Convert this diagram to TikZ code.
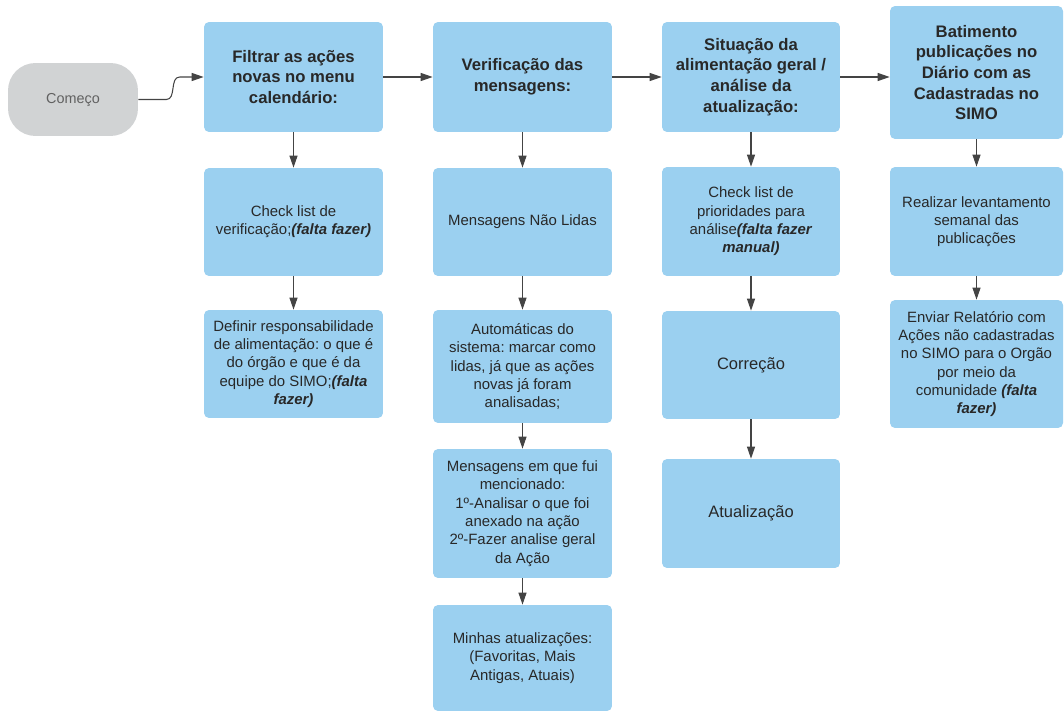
\documentclass[tikz,border=0pt]{standalone}
\usepackage{fontspec}
\setmainfont{Liberation Sans}
\usetikzlibrary{arrows.meta, calc}
\definecolor{boxblue}{RGB}{155, 208, 240}
\definecolor{termgray}{RGB}{209, 211, 212}
\definecolor{ink}{RGB}{40, 40, 40}
\definecolor{wire}{RGB}{68, 68, 68}
\newcommand{\falta}[1]{\textbf{\textit{#1}}}
\frenchspacing

\begin{document}
\begin{tikzpicture}[x=0.02cm, y=-0.02cm,
            term/.style={rectangle, fill=termgray, rounded corners=0.55cm, minimum width=2.6cm, minimum height=1.46cm, text=black!62, font=\fontsize{8.2}{10}\selectfont},
            head/.style={rectangle, fill=boxblue, rounded corners=0.1cm, minimum width=3.58cm, minimum height=2.2cm, align=center, text=ink, inner sep=2pt, font=\fontsize{9.5}{11.8}\selectfont\bfseries},
            task/.style={head, font=\fontsize{8.5}{10.4}\selectfont},
            arr/.style={draw=wire, line width=0.6pt, -{Triangle[length=0.24cm, width=0.16cm]}}
        ]
            \useasboundingbox (0,0) rectangle (1064,713);

            \node[term] (start) at (73,99.5) {Começo};

            % filtrar
            \node[head] (f1) at (293.5,77) {Filtrar as ações\\novas no menu\\calendário:};
            \node[task, minimum height=2.16cm] (f2) at (293.5,222) {Check list de\\verificação;\falta{(falta fazer)}};
            \node[task, minimum height=2.16cm] (f3) at (293.5,364) {Definir responsabilidade\\de alimentação: o que é\\do órgão e que é da\\equipe do SIMO;\falta{(falta}\\\falta{fazer)}};

            % mensagens
            \node[head] (v1) at (522.5,77) {Verificação das\\mensagens:};
            \node[task, minimum height=2.16cm] (v2) at (522.5,222) {Mensagens Não Lidas};
            \node[task, minimum height=2.26cm] (v3) at (522.5,366.5) {Automáticas do\\sistema: marcar como\\lidas, já que as ações\\novas já foram\\analisadas;};
            \node[task, minimum height=2.58cm] (v4) at (522.5,513.5) {Mensagens em que fui\\mencionado:\\1º-Analisar o que foi\\anexado na ação\\2º-Fazer analise geral\\da Ação};
            \node[task, minimum height=2.12cm] (v5) at (522.5,658) {Minhas atualizações:\\(Favoritas, Mais\\Antigas, Atuais)};

            % situacao
            \node[head, minimum width=3.56cm] (s1) at (751,77) {Situação da\\alimentação geral /\\análise da\\atualização:};
            \node[task, minimum width=3.56cm, minimum height=2.18cm] (s2) at (751,221.5) {Check list de\\prioridades para\\análise\falta{(falta fazer}\\\falta{manual)}};
            \node[task, minimum width=3.56cm, minimum height=2.16cm, font=\fontsize{9.4}{11}\selectfont] (s3) at (751,365) {Correção};
            \node[task, minimum width=3.56cm, minimum height=2.18cm, font=\fontsize{9.4}{11}\selectfont] (s4) at (751,513.5) {Atualização};

            % batimento
            \node[head, minimum width=3.46cm, minimum height=2.66cm] (b1) at (976.5,72.5) {Batimento\\publicações no\\Diário com as\\Cadastradas no\\SIMO};
            \node[task, minimum width=3.46cm, minimum height=2.18cm] (b2) at (976.5,221.5) {Realizar levantamento\\semanal das\\publicações};
            \node[task, minimum width=3.46cm, minimum height=2.56cm] (b3) at (976.5,364) {Enviar Relatório com\\Ações não cadastradas\\no SIMO para o Orgão\\por meio da\\comunidade \falta{(falta}\\\falta{fazer)}};

            \draw[arr] (start.east) -- ++(28,0) to[out=0, in=180] ($(f1.west)+(-24,0)$) -- (f1.west);
            \foreach \a/\b in {f1/v1, v1/s1, f1/f2, f2/f3, v1/v2, v2/v3, v3/v4, v4/v5, s1/s2, s2/s3, s3/s4, b1/b2, b2/b3}
                \draw[arr] (\a) -- (\b);
            \draw[arr] (s1.east) -- (s1.east -| b1.west);
        \end{tikzpicture}
\end{document}
